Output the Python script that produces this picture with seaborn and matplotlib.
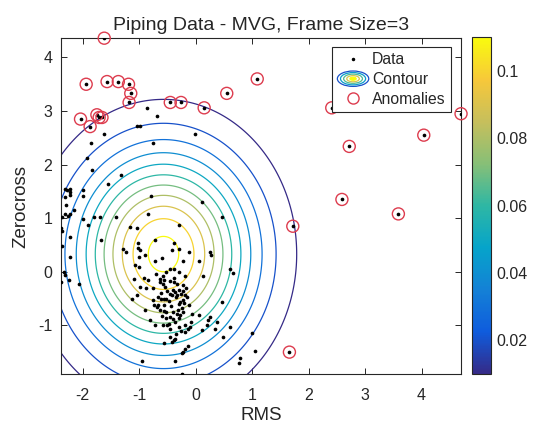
import numpy as np
import pandas as pd
import matplotlib
matplotlib.use("Agg")
import matplotlib.pyplot as plt
import seaborn as sns
from matplotlib.colors import LinearSegmentedColormap, Normalize
from matplotlib.cm import ScalarMappable
from matplotlib.legend_handler import HandlerBase
from matplotlib.patches import Ellipse
from matplotlib.lines import Line2D

# --- data ---
normal_rms = [
    -0.86, -0.69, -1.04, -0.98, -1.63, -0.01, -0.75, -1.85, -1.93, -1.83, -1.33, -1.56,
    -2.32, -2.28, -2.22, -2.22, -2.23, -2.32, -2.00, -2.00, -0.79, 0.11, -2.29, -2.16,
    -2.32, -2.27, -2.22, -2.36, -2.00, -1.80, -1.69, -1.41, -0.84, 0.46, -1.91, -2.38,
    -2.37, -0.29, -1.17, -1.04, -2.23, -1.67, -2.36, -1.29, -1.23, -2.22, -2.34, -2.31,
    -2.25, -2.39, -2.06,
    -0.72, -1.02, -0.39, -1.03, -0.99, -0.42, -0.30, -0.11, 0.26, 0.27,
    -0.89, -1.01, -0.60, -0.72, -0.22, 0.05, -1.07, -1.01, -0.46, -0.39,
    -0.52, -0.70, -0.58, -0.30, -0.19, 0.13, 0.60, 0.66, -1.09, -0.92,
    -0.84, -0.64, -0.56, -0.45, -0.39, -0.33, -0.23, -0.58, -0.63, -0.99,
    -0.88, -0.75, -0.40, -0.36, -0.30, -0.22, -0.26, -0.19, -0.46, -0.42,
    -0.33, -0.16, -1.04, -1.13, -0.62, -0.57, -0.52, -0.75, -0.48, -0.23,
    -0.29, -0.11, -0.66, -0.69, -0.57, -0.73, -0.89, -0.63, -0.57, -0.52,
    -0.40, -0.33, -0.27, -0.22, -0.07, 0.05, 0.26, 0.46, -0.60, -0.45,
    -0.30, -0.36, -0.08, -0.19, -0.72, -0.58, -0.51, -0.81, 0.21, 0.37,
    0.20, -0.30, -0.10, -0.14, -0.46, -0.26, 0.11, 0.34, 0.61, -0.45,
    -0.36, -0.39, -0.42, -0.57, 0.49, 0.99, -0.13, -0.19, -0.22, -0.24,
    1.05, -0.95, -0.37, 0.78, 0.76, -0.24, -0.19,
    -0.55, -0.50, -0.35, -0.28, -0.44, -0.25, -0.62, -0.40, -0.31, -0.20,
    -0.48, -0.34, -0.66, -0.17, -0.53, -0.38,
]
normal_zc = [
    3.06, 2.90, 2.73, 2.73, 2.57, 2.57, 2.40, 2.40, 2.12, 1.90, 1.80, 1.64,
    1.55, 1.52, 1.54, 1.48, 1.43, 1.39, 1.52, 1.41, 1.41, 1.30, 1.24, 1.15,
    1.07, 1.05, 1.07, 1.02, 0.99, 1.02, 1.02, 1.02, 1.08, 1.03, 0.87, 0.81,
    0.76, 0.87, 0.84, 0.82, 0.65, 0.59, 0.49, 0.43, 0.36, 0.27, 0.00, -0.06,
    -0.16, -0.19, -0.22,
    0.59, 0.54, 0.54, 0.44, 0.40, 0.40, 0.42, 0.37, 0.37, 0.31,
    0.31, 0.28, 0.26, 0.21, 0.21, 0.21, 0.12, 0.09, 0.06, 0.05,
    0.00, -0.05, -0.07, 0.00, -0.07, -0.08, 0.05, -0.02, -0.13, -0.11,
    -0.16, -0.13, -0.15, -0.18, -0.19, -0.22, -0.24, -0.22, -0.20, -0.28,
    -0.31, -0.30, -0.34, -0.38, -0.34, -0.36, -0.41, -0.44, -0.41, -0.44,
    -0.44, -0.47, -0.44, -0.50, -0.50, -0.51, -0.50, -0.53, -0.55, -0.53,
    -0.61, -0.62, -0.62, -0.66, -0.62, -0.62, -0.72, -0.72, -0.74, -0.76,
    -0.76, -0.78, -0.81, -0.75, -0.78, -0.80, -0.84, -0.56, -0.82, -0.84,
    -0.87, -0.93, -0.93, -1.00, -1.00, -1.00, -1.00, -0.90, -0.90, -0.93,
    -1.00, -1.03, -1.03, -1.07, -1.07, -1.11, -1.09, -1.06, -1.03, -1.21,
    -1.25, -1.28, -1.32, -1.33, -1.21, -1.15, -1.38, -1.44, -1.49, -1.52,
    -1.48, -1.67, -1.67, -1.61, -1.71, -1.91, -1.12,
    -0.28, -0.36, -0.48, -0.56, -0.64, -0.68, -0.40, -0.88, -0.71, -0.58,
    -0.97, -1.16, -0.47, -0.30, -0.86, -0.12,
]
anomaly_rms = [-1.62, -1.94, -1.57, -1.37, -1.19, -1.15, -1.18, -2.04, -1.87, -1.75,
               -1.71, -1.66, -0.45, -0.26, 0.15, 0.55, 1.09, 2.41, 4.70, 4.04,
               2.72, 2.59, 3.59, 1.72, 1.66]
anomaly_zc = [4.36, 3.50, 3.55, 3.55, 3.50, 3.33, 3.16, 2.85, 2.71, 2.93,
              2.88, 2.88, 3.16, 3.16, 3.06, 3.33, 3.60, 3.06, 2.95, 2.55,
              2.34, 1.35, 1.08, 0.85, -1.50]

# fitted gaussian (MVG) and contour levels
mvg_mean = [-0.57, 0.33]
mvg_std = [1.07, 1.31]
contour_levels = [0.01, 0.02, 0.03, 0.04, 0.05, 0.06, 0.07, 0.08, 0.09, 0.10, 0.11]
cbar_ticks = [0.02, 0.04, 0.06, 0.08, 0.1]
cbar_labels = ["0.02", "0.04", "0.06", "0.08", "0.1"]
x_ticks = [-2, -1, 0, 1, 2, 3, 4]
y_ticks = [-1, 0, 1, 2, 3, 4]

parula = LinearSegmentedColormap.from_list(
    "parula", ["#352a87", "#0f5cdd", "#1481d6", "#06a4ca", "#2eb7a4",
               "#87bf77", "#c6bf5c", "#f7c83a", "#f9fb0e"])
red = "#dd3c4e"
dark = "#262626"

sns.set_theme(style="white")
plt.rcParams['font.family'] = ['Liberation Sans', 'DejaVu Sans']
plt.rcParams.update({
    "axes.unicode_minus": False,
    "xtick.direction": "in", "ytick.direction": "in",
    "xtick.top": True, "ytick.right": True,
    "xtick.bottom": True, "ytick.left": True,
    "xtick.color": dark, "ytick.color": dark,
    "axes.edgecolor": dark, "axes.linewidth": 0.8,
    "text.color": dark, "axes.labelcolor": dark,
})

df_all = pd.DataFrame({"RMS": normal_rms + anomaly_rms,
                       "Zerocross": normal_zc + anomaly_zc})
df_anom = pd.DataFrame({"RMS": anomaly_rms, "Zerocross": anomaly_zc})

fig = plt.figure(figsize=(5.33, 4.29), dpi=100)
ax = fig.add_axes([0.114, 0.128, 0.751, 0.783])
cax = fig.add_axes([0.885, 0.128, 0.036, 0.785])

xmin, xmax = df_all["RMS"].min(), df_all["RMS"].max()
ymin, ymax = df_all["Zerocross"].min(), df_all["Zerocross"].max()

gx, gy = np.meshgrid(np.linspace(xmin - 0.5, xmax + 0.5, 500),
                     np.linspace(ymin - 0.5, ymax + 0.5, 500))
sx, sy = mvg_std
Z = np.exp(-0.5 * (((gx - mvg_mean[0]) / sx) ** 2 + ((gy - mvg_mean[1]) / sy) ** 2)) / (2 * np.pi * sx * sy)
norm = Normalize(vmin=0.01, vmax=0.11)
ax.contour(gx, gy, Z, levels=contour_levels, cmap=parula, norm=norm, linewidths=0.9)

sns.scatterplot(data=df_all, x="RMS", y="Zerocross", ax=ax, color="black",
                s=7, linewidth=0, legend=False, zorder=3)
sns.scatterplot(data=df_anom, x="RMS", y="Zerocross", ax=ax, marker="o", s=75,
                facecolor="none", edgecolor=red, linewidth=1.0, legend=False,
                clip_on=False, zorder=4)

ax.set_xlim(xmin, xmax)
ax.set_ylim(ymin, ymax)
ax.set_xticks(x_ticks)
ax.set_yticks(y_ticks)
ax.tick_params(axis="both", labelsize=11.5, length=4, width=0.7)
ax.tick_params(axis="x", pad=10)
ax.tick_params(axis="y", pad=6)
for s in ax.spines.values():
    s.set_visible(True)
    s.set_color(dark)
ax.set_xlabel("RMS", fontsize=13.5, labelpad=3)
ax.set_ylabel("Zerocross", fontsize=13.5, labelpad=6)
ax.set_title("Piping Data - MVG, Frame Size=3", fontsize=14, pad=6)


class ContourKey:
    pass


class ContourKeyHandler(HandlerBase):
    def create_artists(self, legend, orig_handle, xdescent, ydescent,
                       width, height, fontsize, trans):
        cx = 0.5 * width - xdescent
        cy = 0.5 * height - ydescent
        arts = []
        for frac, c in [(1.0, 0.1), (0.8, 0.35), (0.6, 0.55), (0.4, 0.8), (0.2, 1.0)]:
            arts.append(Ellipse((cx, cy), width * frac, height * 1.4 * frac, fill=(frac < 0.3),
                                facecolor=parula(c), edgecolor=parula(c), lw=0.9,
                                transform=trans))
        return arts


h_data = Line2D([], [], marker=".", color="black", ls="none", ms=3)
h_anom = Line2D([], [], marker="o", mfc="none", mec=red, ls="none", ms=8, mew=1.0)
leg = ax.legend([h_data, ContourKey(), h_anom], ["Data", "Contour", "Anomalies"],
                handler_map={ContourKey: ContourKeyHandler()},
                loc="upper right", bbox_to_anchor=(451 / 533, 1 - 47 / 429),
                bbox_transform=fig.transFigure, borderaxespad=0,
                fontsize=11.3, frameon=True, fancybox=False, framealpha=1,
                edgecolor=dark, handlelength=2.0, handletextpad=0.2,
                borderpad=0.35, labelspacing=0.3)
leg.get_frame().set_linewidth(0.8)

cb = fig.colorbar(ScalarMappable(norm=norm, cmap=parula), cax=cax, ticks=cbar_ticks)
cb.set_ticklabels(cbar_labels)
cb.outline.set_edgecolor(dark)
cb.outline.set_linewidth(0.8)
cax.tick_params(labelsize=11.5, direction="in", length=4, width=0.7, pad=4,
                right=True, left=False, color=dark)

fig.savefig("out.png", dpi=100, facecolor="white")
